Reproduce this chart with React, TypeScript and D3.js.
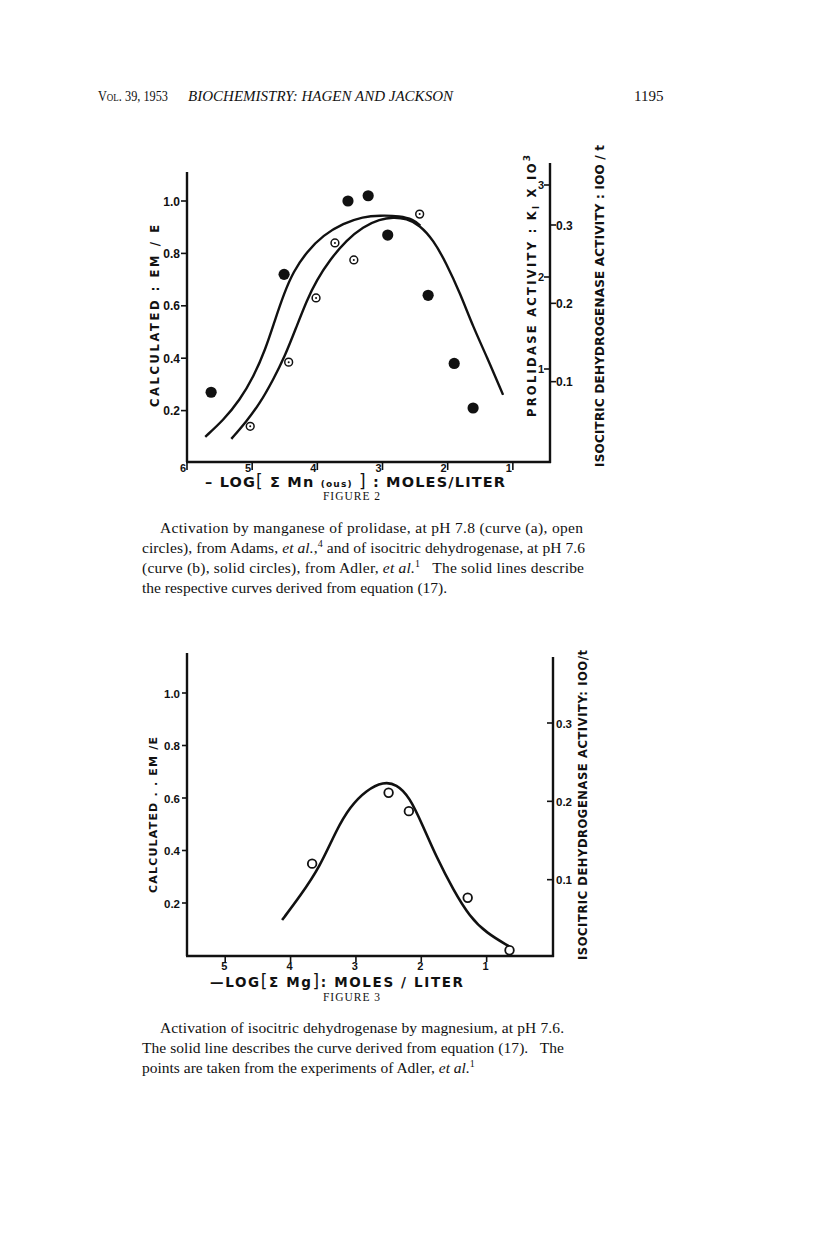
import React from 'react';
import * as d3 from 'd3';

// Figure 2: -log[Mn] vs calculated Em/E
const fig2SolidX = [5.63, 4.51, 3.53, 3.22, 2.92, 2.3, 1.9, 1.61];
const fig2SolidY = [0.27, 0.72, 1.0, 1.02, 0.87, 0.64, 0.38, 0.21];
const fig2OpenX = [5.03, 4.44, 4.02, 3.73, 3.44, 2.43];
const fig2OpenY = [0.14, 0.385, 0.63, 0.84, 0.775, 0.95];
const curveAX = [5.72, 5.44, 5.19, 4.98, 4.8, 4.65, 4.51, 4.37, 4.16, 3.91, 3.6, 3.3, 3.04, 2.73, 2.53, 2.42];
const curveAY = [0.1, 0.164, 0.24, 0.329, 0.431, 0.546, 0.648, 0.73, 0.807, 0.87, 0.915, 0.94, 0.945, 0.943, 0.93, 0.906];
const curveBX = [5.32, 5.09, 4.88, 4.68, 4.5, 4.32, 4.16, 4.01, 3.81, 3.55, 3.3, 3.04, 2.84, 2.63, 2.43, 2.22, 2.02, 1.81, 1.61, 1.4, 1.15];
const curveBY = [0.092, 0.158, 0.228, 0.317, 0.406, 0.52, 0.622, 0.698, 0.775, 0.851, 0.902, 0.93, 0.938, 0.933, 0.908, 0.851, 0.762, 0.648, 0.52, 0.406, 0.26];

// Figure 3: -log[Mg]
const fig3OpenX = [3.67, 2.5, 2.19, 1.29, 0.65];
const fig3OpenY = [0.35, 0.62, 0.55, 0.22, 0.02];
const curve3X = [4.13, 3.86, 3.55, 3.3, 3.09, 2.84, 2.58, 2.38, 2.18, 1.97, 1.77, 1.51, 1.26, 1.0, 0.65];
const curve3Y = [0.135, 0.224, 0.338, 0.478, 0.567, 0.63, 0.662, 0.653, 0.605, 0.491, 0.376, 0.25, 0.148, 0.085, 0.034];

const xTicks = [6, 5, 4, 3, 2, 1];
const xTicks3 = [5, 4, 3, 2, 1];
const leftTicks = [0.2, 0.4, 0.6, 0.8, 1.0];
const prolidaseTicks = [1, 2, 3];
const isoTicks = [0.1, 0.2, 0.3];

const caption2Lines = [
  'Activation by manganese of prolidase, at pH 7.8 (curve (a), open',
  'circles), from Adams, |et al.|,^4^ and of isocitric dehydrogenase, at pH 7.6',
  '(curve (b), solid circles), from Adler, |et al.|^1^   The solid lines describe',
  'the respective curves derived from equation (17).',
];
const caption3Lines = [
  'Activation of isocitric dehydrogenase by magnesium, at pH 7.6.',
  'The solid line describes the curve derived from equation (17).   The',
  'points are taken from the experiments of Adler, |et al.|^1^',
];

const sans = 'DejaVu Sans, Liberation Sans, sans-serif';
const tickFont = 'Liberation Sans, Arial, sans-serif';
const serif = 'Liberation Serif, Times New Roman, serif';

// "|italic|" and "^sup^" markup inside a caption line
function richLine(s: string) {
  const parts: React.ReactNode[] = [];
  const re = /(\|[^|]+\||\^[^^]+\^)/g;
  let last = 0;
  let m: RegExpExecArray | null;
  let k = 0;
  while ((m = re.exec(s))) {
    if (m.index > last) parts.push(<tspan key={k++}>{s.slice(last, m.index)}</tspan>);
    const tok = m[0];
    if (tok[0] === '|') parts.push(<tspan key={k++} fontStyle="italic">{tok.slice(1, -1)}</tspan>);
    else parts.push(<tspan key={k++} fontSize={10} baselineShift="6">{tok.slice(1, -1)}</tspan>);
    last = m.index + tok.length;
  }
  if (last < s.length) parts.push(<tspan key={k++}>{s.slice(last)}</tspan>);
  return parts;
}

const Caption = ({ lines, y0, widths }: { lines: string[]; y0: number; widths: (number | null)[] }) => (
  <g fontFamily={serif} fontSize={15.5} fill="#111">
    {lines.map((l, i) => (
      <text key={i} x={i === 0 ? 160 : 142} y={y0 + i * 20} style={{ whiteSpace: 'pre' }}
        textLength={widths[i] ?? undefined} lengthAdjust={widths[i] ? 'spacing' : undefined}>
        {richLine(l)}
      </text>
    ))}
  </g>
);

const App = () => {
  // figure 2 scales
  const x2 = d3.scaleLinear().domain([6, 0.43]).range([187, 550]);
  const y2 = d3.scaleLinear().domain([0, 1]).range([463, 201]);
  const yProl = d3.scaleLinear().domain([0, 3]).range([461, 185]);
  const yIso2 = d3.scaleLinear().domain([0, 0.3]).range([460, 225]);

  // figure 3 scales
  const x3 = d3.scaleLinear().domain([5.6, 0]).range([186, 552]);
  const y3 = d3.scaleLinear().domain([0, 1]).range([955.5, 693]);
  const yIso3 = d3.scaleLinear().domain([0, 0.3]).range([958, 723]);

  const pathA = d3.line<number>().x(d => x2(d)).y((d, i) => y2(curveAY[i])).curve(d3.curveBasis)(curveAX);
  const pathB = d3.line<number>().x(d => x2(d)).y((d, i) => y2(curveBY[i])).curve(d3.curveBasis)(curveBX);
  const path3 = d3.line<number>().x(d => x3(d)).y((d, i) => y3(curve3Y[i])).curve(d3.curveBasis)(curve3X);

  const axisW = 2.4;

  return (
    <svg width={816} height={1239} viewBox="0 0 816 1239"
      style={{ position: 'absolute', left: 0, top: 0, background: '#fff' }}>
      <rect width={816} height={1239} fill="#fff" />

      {/* running head */}
      <g fontFamily={serif} fontSize={15} fill="#111">
        <text x={98} y={101} style={{ fontVariant: 'small-caps' }} textLength={70} lengthAdjust="spacingAndGlyphs">Vol. 39, 1953</text>
        <text x={188} y={101} fontStyle="italic" textLength={265} lengthAdjust="spacing">BIOCHEMISTRY: HAGEN AND JACKSON</text>
        <text x={634} y={101}>1195</text>
      </g>

      {/* ---------- FIGURE 2 ---------- */}
      <g stroke="#111" strokeWidth={axisW} fill="none">
        <line x1={187} y1={172} x2={187} y2={462} />
        <line x1={186} y1={462} x2={551} y2={462} />
        <line x1={550} y1={163} x2={550} y2={463} />
      </g>
      <g fontFamily={tickFont} fontWeight="bold" fontSize={12} fill="#111">
        {leftTicks.map(t => (
          <g key={t}>
            <line x1={181} x2={187} y1={y2(t)} y2={y2(t)} stroke="#111" strokeWidth={1.6} />
            <text x={180} y={y2(t) + 4.5} textAnchor="end">{t.toFixed(1)}</text>
          </g>
        ))}
        {xTicks.map(t => (
          <g key={t}>
            <line x1={x2(t)} x2={x2(t)} y1={462} y2={470} stroke="#111" strokeWidth={1.6} />
            <text x={x2(t) - 4} y={472} fontSize={11} textAnchor="middle">{t}</text>
          </g>
        ))}
        {prolidaseTicks.map(t => (
          <g key={t}>
            <line x1={544} x2={550} y1={yProl(t)} y2={yProl(t)} stroke="#111" strokeWidth={1.6} />
            <text x={544} y={yProl(t) + 4} fontSize={11} textAnchor="end">{t}</text>
          </g>
        ))}
        {isoTicks.map(t => (
          <g key={t}>
            <line x1={550} x2={556} y1={yIso2(t)} y2={yIso2(t)} stroke="#111" strokeWidth={1.6} />
            <text x={556} y={yIso2(t) + 4.5}>{t.toFixed(1)}</text>
          </g>
        ))}
      </g>
      <path d={pathA ?? ''} fill="none" stroke="#111" strokeWidth={2.4} />
      <path d={pathB ?? ''} fill="none" stroke="#111" strokeWidth={2.4} />
      {fig2SolidX.map((v, i) => (
        <circle key={'s' + i} cx={x2(v)} cy={y2(fig2SolidY[i])} r={5.6} fill="#111" />
      ))}
      {fig2OpenX.map((v, i) => (
        <g key={'o' + i}>
          <circle cx={x2(v)} cy={y2(fig2OpenY[i])} r={3.9} fill="#fff" stroke="#111" strokeWidth={1.5} />
          <circle cx={x2(v)} cy={y2(fig2OpenY[i])} r={1} fill="#111" />
        </g>
      ))}
      <g fontFamily={sans} fontWeight="bold" fill="#111" style={{ whiteSpace: 'pre' }}>
        <text transform="translate(159,407) rotate(-90)" fontSize={11.5} textLength={182} lengthAdjust="spacing">CALCULATED  :  EM / E</text>
        <text transform="translate(536,417) rotate(-90)" fontSize={11.5} textLength={262} lengthAdjust="spacing">
          <tspan>PROLIDASE     ACTIVITY  :  K</tspan>
          <tspan fontSize={8} baselineShift="-3">I</tspan>
          <tspan>   X   IO</tspan>
          <tspan fontSize={9} baselineShift="6">3</tspan>
        </text>
        <text transform="translate(604,467) rotate(-90)" fontSize={12} textLength={322} lengthAdjust="spacing">ISOCITRIC   DEHYDROGENASE   ACTIVITY  :  IOO / t</text>
        <text x={205} y={487} fontSize={14.5} textLength={300} lengthAdjust="spacing">
          –  LOG<tspan fontSize={17} fontWeight="normal">[</tspan> Σ  Mn  <tspan fontSize={9}>(ous)</tspan> <tspan fontSize={17} fontWeight="normal">]</tspan> : MOLES/LITER
        </text>
      </g>
      <text x={352} y={500} textAnchor="middle" fontFamily={serif} fontSize={11.5} letterSpacing={1} fill="#111">FIGURE 2</text>

      <Caption lines={caption2Lines} y0={533} widths={[423, 443, 442, null]} />

      {/* ---------- FIGURE 3 ---------- */}
      <g stroke="#111" strokeWidth={axisW} fill="none">
        <line x1={187} y1={653} x2={187} y2={956} />
        <line x1={186} y1={956} x2={554} y2={956} />
        <line x1={553} y1={657} x2={553} y2={957} />
      </g>
      <g fontFamily={tickFont} fontWeight="bold" fontSize={11.5} fill="#111">
        {leftTicks.map(t => (
          <g key={t}>
            <line x1={182} x2={187} y1={y3(t)} y2={y3(t)} stroke="#111" strokeWidth={1.6} />
            <text x={180} y={y3(t) + 4.5} textAnchor="end">{t.toFixed(1)}</text>
          </g>
        ))}
        {xTicks3.map(t => (
          <g key={t}>
            <line x1={x3(t)} x2={x3(t)} y1={956} y2={962} stroke="#111" strokeWidth={1.6} />
            <text x={x3(t) - 1} y={970} fontSize={11} textAnchor="middle">{t}</text>
          </g>
        ))}
        {isoTicks.map(t => (
          <g key={t}>
            <line x1={547} x2={553} y1={yIso3(t)} y2={yIso3(t)} stroke="#111" strokeWidth={1.6} />
            <text x={556} y={yIso3(t) + 4.5}>{t.toFixed(1)}</text>
          </g>
        ))}
      </g>
      <path d={path3 ?? ''} fill="none" stroke="#111" strokeWidth={2.6} />
      {fig3OpenX.map((v, i) => (
        <circle key={'p' + i} cx={x3(v)} cy={y3(fig3OpenY[i])} r={4.3} fill="#fff" stroke="#111" strokeWidth={1.8} />
      ))}
      <g fontFamily={sans} fontWeight="bold" fill="#111" style={{ whiteSpace: 'pre' }}>
        <text transform="translate(157,893) rotate(-90)" fontSize={11} textLength={156} lengthAdjust="spacing">CALCULATED . . EM /E</text>
        <text transform="translate(587,960) rotate(-90)" fontSize={11.5} textLength={310} lengthAdjust="spacing">ISOCITRIC   DEHYDROGENASE   ACTIVITY: IOO/t</text>
        <text x={210} y={987} fontSize={13.5} textLength={253} lengthAdjust="spacing">
          —LOG<tspan fontSize={17} fontWeight="normal">[</tspan>Σ  Mg<tspan fontSize={17} fontWeight="normal">]</tspan>: MOLES / LITER
        </text>
      </g>
      <text x={352} y={1001} textAnchor="middle" fontFamily={serif} fontSize={11.5} letterSpacing={1} fill="#111">FIGURE 3</text>

      <Caption lines={caption3Lines} y0={1033} widths={[404, 422, null]} />
    </svg>
  );
};

export default App;
